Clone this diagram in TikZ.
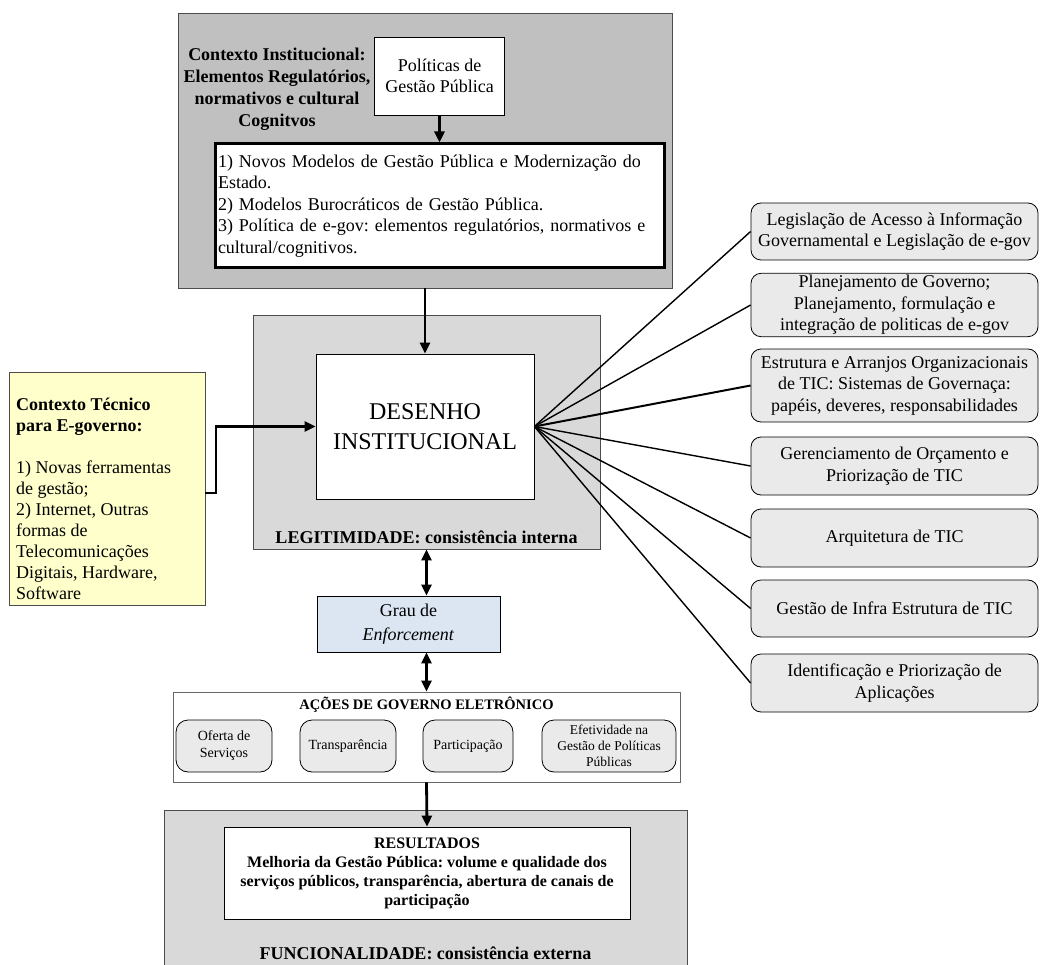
\documentclass[tikz,border=0pt]{standalone}
\usepackage{fontspec}
\setmainfont{Liberation Serif}
\usetikzlibrary{arrows.meta, positioning, calc}

\definecolor{ctxgray}{HTML}{C0C0C0}
\definecolor{legitgray}{HTML}{D9D9D9}
\definecolor{boxgray}{HTML}{EAEAEA}
\definecolor{tecyellow}{HTML}{FFFFCC}
\definecolor{enfblue}{HTML}{DCE6F2}
\frenchspacing

\begin{document}
\begin{tikzpicture}[
    x=1pt, y=-1pt,
    every node/.style={font=\fontsize{18}{21.5}\selectfont, inner sep=2pt},
    area/.style={draw=black!70, line width=0.8pt},
    plain/.style={draw, fill=white, line width=0.8pt, align=center},
    lbl/.style={font=\fontsize{18}{22}\selectfont\bfseries, align=center},
    tic/.style={draw, rounded corners=10pt, fill=boxgray, line width=0.8pt, align=center, minimum width=287pt},
    acao/.style={draw, rounded corners=12pt, fill=boxgray, line width=0.8pt, align=center, minimum height=52pt, font=\fontsize{14}{17}\selectfont},
    flow/.style={line width=2.8pt, -{Triangle[length=11pt,width=10pt]}},
    twoway/.style={line width=2.8pt, {Triangle[length=11pt,width=10pt]}-{Triangle[length=11pt,width=10pt]}},
    fan/.style={line width=1.4pt}
]
    \useasboundingbox (0,0) rectangle (1040,965);

    % contexto institucional
    \node[area, fill=ctxgray, minimum width=494pt, minimum height=275pt] (ctx) at (425,150.5) {};
    \node[lbl] (ctxlbl) at (277,89) {Contexto Institucional:\\Elementos Regulatórios,\\normativos e cultural\\Cognitvos};
    \node[plain, minimum width=130pt, minimum height=78pt] (pol) at (439.5,76) {Políticas de\\Gestão Pública};
    \node[draw, fill=white, line width=3pt, text width=443pt, align=left, minimum height=124pt, inner xsep=3pt] (modelos) at (439.5,206) {1) Novos Modelos de Gestão Pública e Modernização do\\Estado.\\2) Modelos Burocráticos de Gestão Pública.\\3) Política de e-gov: elementos regulatórios, normativos e\\cultural/cognitivos.};

    % legitimidade
    \node[area, fill=legitgray, minimum width=347pt, minimum height=234pt] (legit) at (426.5,432) {};
    \node[plain, minimum width=218pt, minimum height=145pt, font=\fontsize{24}{30}\selectfont] (desenho) at (425,426.5) {DESENHO\\INSTITUCIONAL};
    \node[lbl] (legitlbl) at (426.5,537) {LEGITIMIDADE: consistência interna};

    % contexto tecnico
    \node[draw=black!70, fill=tecyellow, line width=0.8pt, minimum width=196pt, minimum height=233pt] (tecnico) at (107,488.5) {};
    \node[anchor=north west, align=left, font=\fontsize{18}{21}\selectfont] (teclbl) at (14,396) {{\bfseries Contexto Técnico}\\{\bfseries para E-governo:}\\[21pt]1) Novas ferramentas\\de gestão;\\2) Internet, Outras\\formas de\\Telecomunicações\\Digitais, Hardware,\\Software};
    \coordinate (tecout) at (205,493);

    % enforcement e acoes
    \node[draw, fill=enfblue, line width=0.8pt, minimum width=183pt, minimum height=56pt, align=center, font=\fontsize{18}{24}\selectfont] (grau) at (408.5,624) {Grau de\\\textit{Enforcement}};
    \node[draw=black!60, line width=0.8pt, minimum width=507pt, minimum height=90pt] (acoes) at (426.5,737) {};
    \node[font=\fontsize{14.5}{17}\selectfont\bfseries] (acoeslbl) at (426.5,705) {AÇÕES DE GOVERNO ELETRÔNICO};
    \node[acao, minimum width=96pt] (oferta) at (224,746) {Oferta de\\Serviços};
    \node[acao, minimum width=96pt] (transp) at (348,746) {Transparência};
    \node[acao, minimum width=90pt] (partic) at (468,746) {Participação};
    \node[acao, minimum width=134pt, font=\fontsize{13.5}{16}\selectfont] (efet) at (609,746) {Efetividade na\\Gestão de Políticas\\Públicas};

    % funcionalidade
    \node[area, fill=legitgray, minimum width=523pt, minimum height=170pt] (func) at (425.5,895) {};
    \node[plain, minimum width=406pt, minimum height=92pt, font=\fontsize{16}{19}\selectfont\bfseries] (resultados) at (427,873) {RESULTADOS\\Melhoria da Gestão Pública: volume e qualidade dos\\serviços públicos, transparência, abertura de canais de\\participação};
    \node[lbl] (funclbl) at (425.5,953) {FUNCIONALIDADE: consistência externa};

    % areas de TIC
    \node[tic, minimum height=57pt] (leg) at (894.5,231.5) {Legislação de Acesso à Informação\\Governamental e Legislação de e-gov};
    \node[tic, minimum height=58pt] (plan) at (894.5,305) {Planejamento de Governo;\\Planejamento, formulação e\\integração de politicas de e-gov};
    \node[tic, minimum height=73pt] (estr) at (894.5,385.5) {Estrutura e Arranjos Organizacionais\\de TIC: Sistemas de Governaça:\\papéis, deveres, responsabilidades};
    \node[tic, minimum height=58pt] (orc) at (894.5,466) {Gerenciamento de Orçamento e\\Priorização de TIC};
    \node[tic, minimum height=58pt] (arq) at (894.5,538) {Arquitetura de TIC};
    \node[tic, minimum height=57pt] (infra) at (894.5,608.5) {Gestão de Infra Estrutura de TIC};
    \node[tic, minimum height=58pt] (apl) at (894.5,683) {Identificação e Priorização de\\Aplicações};

    % ligacoes
    \draw[flow] (pol) -- (modelos);
    \draw[flow] (ctx.south) -- (desenho.north);
    \draw[flow] (tecout) -- ++(11,0) |- (desenho.west);
    \draw[twoway] (legit.south) -- (legit.south |- grau.north);
    \draw[twoway] (grau.south -| acoes.north) -- (acoes.north);
    \draw[flow] (acoes.south) -- (resultados.north);
    \draw[fan] (desenho.east) -- (leg.west);
    \draw[fan] (desenho.east) -- (plan.west);
    \draw[fan, line width=2pt] (desenho.east) -- (estr.west);
    \draw[fan] (desenho.east) -- (orc.west);
    \draw[fan] (desenho.east) -- (arq.west);
    \draw[fan] (desenho.east) -- (infra.west);
    \draw[fan] (desenho.east) -- (apl.west);
\end{tikzpicture}
\end{document}
